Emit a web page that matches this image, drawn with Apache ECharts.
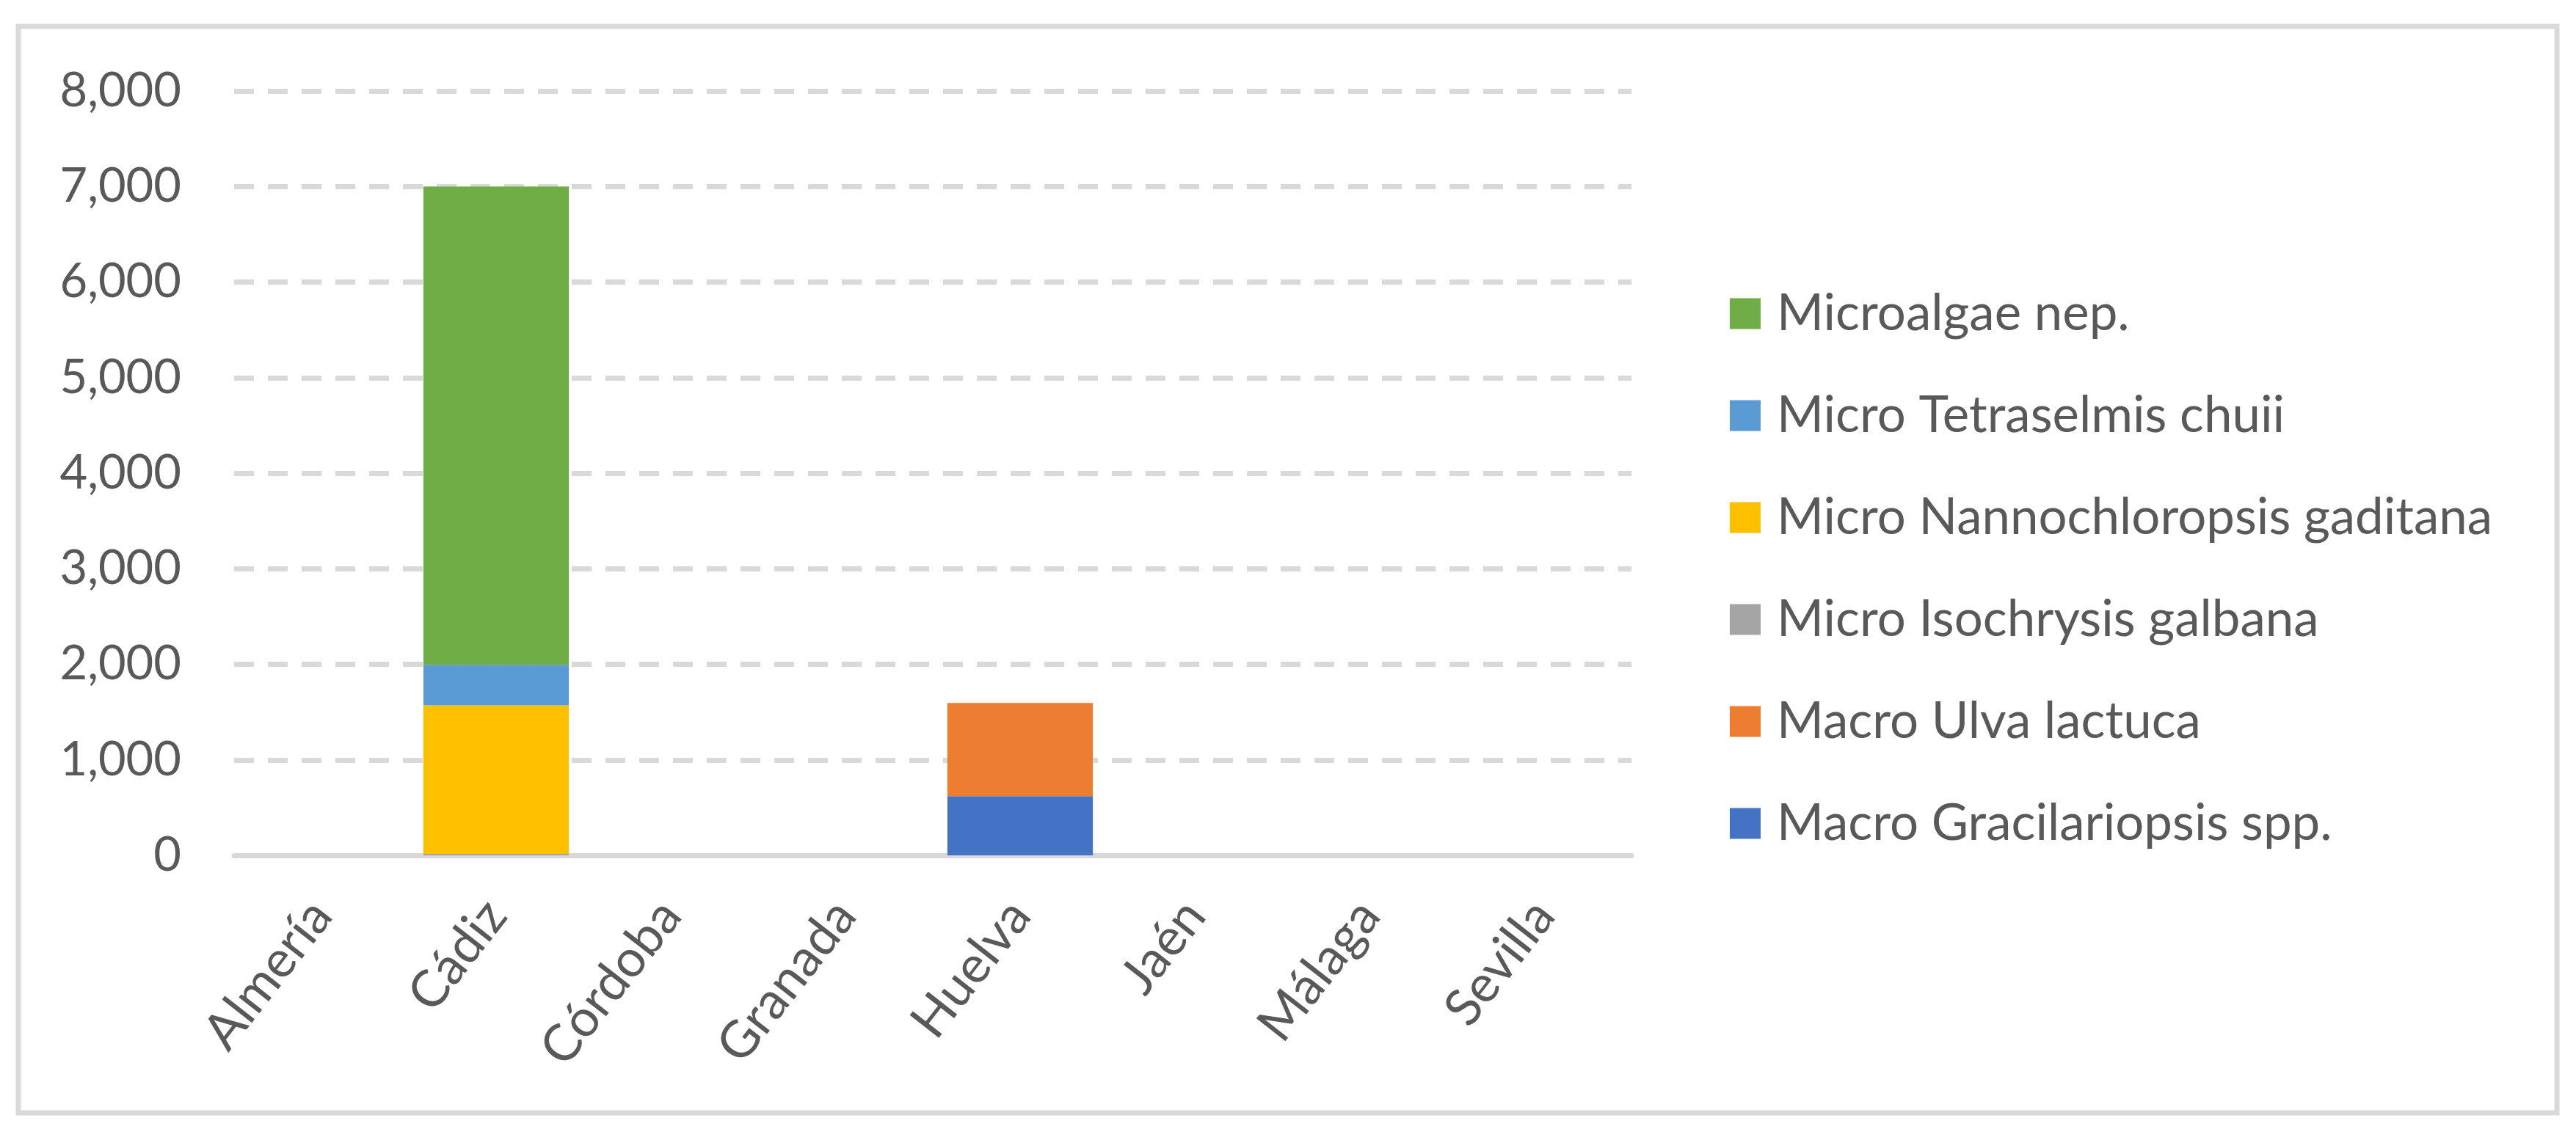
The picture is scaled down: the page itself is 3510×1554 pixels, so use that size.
<!DOCTYPE html>
<html>
<head>
<meta charset="utf-8">
<script src="https://cdn.jsdelivr.net/npm/echarts@6/dist/echarts.min.js"></script>
<style>
html,body{margin:0;padding:0;background:#fff;}
#chart{width:3510px;height:1554px;}
</style>
</head>
<body>
<div id="chart"></div>
<script>
const categories = ['Almería', 'Cádiz', 'Córdoba', 'Granada', 'Huelva', 'Jaén', 'Málaga', 'Sevilla'];
const gracilariopsis = [0, 0, 0, 0, 620, 0, 0, 0];
const ulva = [0, 0, 0, 0, 975, 0, 0, 0];
const isochrysis = [0, 15, 0, 0, 0, 0, 0, 0];
const nannochloropsis = [0, 1555, 0, 0, 0, 0, 0, 0];
const tetraselmis = [0, 425, 0, 0, 0, 0, 0, 0];
const microalgaeNep = [0, 5005, 0, 0, 0, 0, 0, 0];
const seriesNames = ['Macro Gracilariopsis spp.', 'Macro Ulva lactuca', 'Micro Isochrysis galbana', 'Micro Nannochloropsis gaditana', 'Micro Tetraselmis chuii', 'Microalgae nep.'];
const seriesColors = ['#4472C4', '#ED7D31', '#A5A5A5', '#FFC000', '#5B9BD5', '#70AD47'];
const yTicks = { min: 0, max: 8000, interval: 1000 };

const seriesData = [gracilariopsis, ulva, isochrysis, nannochloropsis, tetraselmis, microalgaeNep];
const FONT = 'Lato';
const TXT = '#595959';

const chart = echarts.init(document.getElementById('chart'), null, { renderer: 'canvas' });
chart.setOption({
  animation: false,
  backgroundColor: '#ffffff',
  graphic: [{
    type: 'rect',
    shape: { x: 25, y: 36, width: 3459, height: 1481 },
    style: { fill: 'none', stroke: '#d9d9d9', lineWidth: 7 },
    z: 0
  }],
  grid: { left: 319, right: 1287, top: 124, bottom: 388, containLabel: false },
  legend: {
    orient: 'vertical',
    left: 2352,
    top: 388,
    itemWidth: 42,
    itemHeight: 42,
    itemGap: 70,
    icon: 'rect',
    data: seriesNames.slice().reverse(),
    textStyle: { fontFamily: FONT, fontSize: 69, color: TXT, padding: [0, 0, 0, 17] }
  },
  xAxis: {
    type: 'category',
    data: categories,
    axisLine: { show: true, lineStyle: { color: '#d9d9d9', width: 7 } },
    axisTick: { show: false },
    axisLabel: { rotate: 52, fontFamily: FONT, fontSize: 70, color: TXT, margin: 70, interval: 0 },
    splitLine: { show: false }
  },
  yAxis: {
    type: 'value',
    min: yTicks.min,
    max: yTicks.max,
    interval: yTicks.interval,
    axisLine: { show: false },
    axisTick: { show: false },
    axisLabel: {
      fontFamily: FONT, fontSize: 65, color: TXT, margin: 72,
      formatter: v => v.toLocaleString('en-US')
    },
    splitLine: { show: true, lineStyle: { color: '#d9d9d9', width: 7, type: [27, 19] } }
  },
  series: seriesNames.map((name, i) => ({
    name: name,
    type: 'bar',
    stack: 'total',
    data: seriesData[i],
    barCategoryGap: '16.7%',
    itemStyle: { color: seriesColors[i] }
  }))
});
</script>
</body>
</html>
